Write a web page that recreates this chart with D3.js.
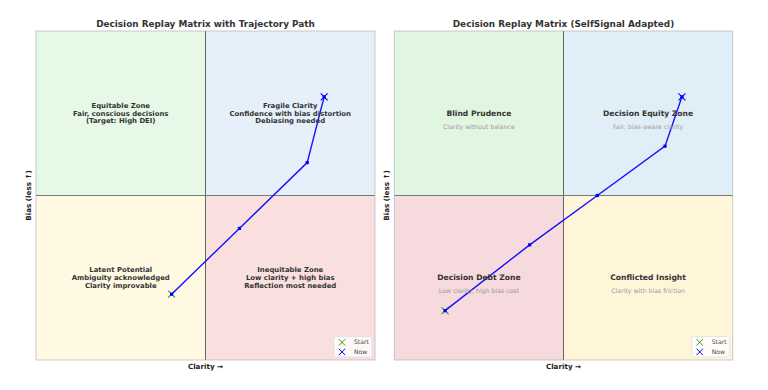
<!DOCTYPE html>
<html>
<head>
<meta charset="utf-8">
<script src="https://cdn.jsdelivr.net/npm/d3@7"></script>
<style>
  body { margin: 0; background: #fff; }
  text { font-family: "DejaVu Sans", sans-serif; }
</style>
</head>
<body>
<svg width="768" height="390"></svg>
<script>
// trajectory data (clarity, bias-less)
var leftPath = [[0.4, 0.2], [0.6, 0.4], [0.8, 0.6], [0.85, 0.8]];
var rightPath = [[0.15, 0.15], [0.4, 0.35], [0.6, 0.5], [0.8, 0.65], [0.85, 0.8]];

// quadrants: [x0, y0, fill]
var leftQuads = [[0, 0.5, '#e6f8e6'], [0.5, 0.5, '#e6f0fa'], [0, 0, '#fff9e3'], [0.5, 0, '#fadfdf']];
var rightQuads = [[0, 0.5, '#e1f6e1'], [0.5, 0.5, '#e0eff7'], [0, 0, '#f6dadd'], [0.5, 0, '#fff6da']];

var leftLabels = [
  [0.25, 0.75, ['Equitable Zone', 'Fair, conscious decisions', '(Target: High DEI)']],
  [0.75, 0.75, ['Fragile Clarity', 'Confidence with bias distortion', 'Debiasing needed']],
  [0.25, 0.25, ['Latent Potential', 'Ambiguity acknowledged', 'Clarity improvable']],
  [0.75, 0.25, ['Inequitable Zone', 'Low clarity + high bias', 'Reflection most needed']]
];
var rightLabels = [
  [0.25, 0.75, 'Blind Prudence', 'Clarity without balance'],
  [0.75, 0.75, 'Decision Equity Zone', 'Fair, bias-aware clarity'],
  [0.25, 0.25, 'Decision Debt Zone', 'Low clarity, high bias cost'],
  [0.75, 0.25, 'Conflicted Insight', 'Clarity with bias friction']
];

var svg = d3.select('svg');

function panel(opt) {
  var x = d3.scaleLinear().domain([0, 1]).range([opt.left, opt.right]);
  var y = d3.scaleLinear().domain([0, 1]).range([360, 31]);
  var g = svg.append('g');

  g.selectAll('rect.q')
    .data(opt.quads)
    .enter().append('rect')
    .attr('class', 'q')
    .attr('x', function(d) { return x(d[0]); })
    .attr('y', function(d) { return y(d[1] + 0.5); })
    .attr('width', x(0.5) - x(0))
    .attr('height', y(0) - y(0.5))
    .attr('fill', function(d) { return d[2]; });

  // quadrant dividers
  g.append('line')
    .attr('x1', x(0.5)).attr('x2', x(0.5)).attr('y1', y(0)).attr('y2', y(1))
    .attr('stroke', '#555').attr('stroke-width', 0.9);
  g.append('line')
    .attr('x1', x(0)).attr('x2', x(1)).attr('y1', y(0.5)).attr('y2', y(0.5))
    .attr('stroke', '#777').attr('stroke-width', 1.1);

  // frame
  g.append('rect')
    .attr('x', x(0)).attr('y', y(1))
    .attr('width', x(1) - x(0)).attr('height', y(0) - y(1))
    .attr('fill', 'none').attr('stroke', '#aaa').attr('stroke-opacity', 0.6).attr('stroke-width', 1);

  // trajectory
  var line = d3.line().x(function(d) { return x(d[0]); }).y(function(d) { return y(d[1]); });
  var pts = opt.path;
  var first = pts[0], last = pts[pts.length - 1];

  function cross(p, color, r) {
    g.append('path')
      .attr('d', 'M' + (x(p[0]) - r) + ',' + (y(p[1]) - r) + 'L' + (x(p[0]) + r) + ',' + (y(p[1]) + r) +
                 'M' + (x(p[0]) - r) + ',' + (y(p[1]) + r) + 'L' + (x(p[0]) + r) + ',' + (y(p[1]) - r))
      .attr('stroke', color).attr('stroke-width', 1.1).attr('fill', 'none');
  }
  cross(first, '#2ca02c', 3.5);

  g.append('path')
    .datum(pts)
    .attr('d', line)
    .attr('fill', 'none')
    .attr('stroke', '#1010ff')
    .attr('stroke-width', 1.4);

  g.selectAll('rect.pt')
    .data(pts)
    .enter().append('rect')
    .attr('class', 'pt')
    .attr('x', function(d) { return x(d[0]) - 1.6; })
    .attr('y', function(d) { return y(d[1]) - 1.6; })
    .attr('width', 3.2).attr('height', 3.2)
    .attr('fill', '#0000ff');

  cross(last, '#0000ff', 3.5);

  opt.drawLabels(g, x, y);

  // legend
  var lx = x(1) - 41, ly = y(0) - 23.5;
  g.append('rect')
    .attr('x', lx).attr('y', ly).attr('width', 38).attr('height', 20.5).attr('rx', 1.5)
    .attr('fill', '#fff').attr('fill-opacity', 0.8).attr('stroke', '#ddd').attr('stroke-width', 0.7);
  [['Start', '#2ca02c'], ['Now', '#0000ff']].forEach(function(d, i) {
    var cx = lx + 8, cy = ly + 5.8 + i * 9.6, r = 3.2;
    g.append('path')
      .attr('d', 'M' + (cx - r) + ',' + (cy - r) + 'L' + (cx + r) + ',' + (cy + r) +
                 'M' + (cx - r) + ',' + (cy + r) + 'L' + (cx + r) + ',' + (cy - r))
      .attr('stroke', d[1]).attr('stroke-width', 1).attr('fill', 'none');
    g.append('text')
      .attr('x', lx + 20).attr('y', cy).attr('dy', '0.35em')
      .attr('font-size', 6.1).attr('fill', '#444')
      .text(d[0]);
  });

  // titles and axis labels
  g.append('text')
    .attr('x', x(0.5)).attr('y', 24).attr('dy', '0.35em')
    .attr('text-anchor', 'middle').attr('font-size', 8.9).attr('font-weight', 'bold').attr('fill', '#333')
    .text(opt.title);
  g.append('text')
    .attr('x', x(0.5)).attr('y', 366).attr('dy', '0.35em')
    .attr('text-anchor', 'middle').attr('font-size', 7.2).attr('font-weight', 'bold').attr('fill', '#222')
    .text('Clarity →');
  g.append('text')
    .attr('transform', 'translate(' + (x(0) - 7.5) + ',' + y(0.5) + ') rotate(-90)')
    .attr('dy', '0.35em')
    .attr('text-anchor', 'middle').attr('font-size', 7.2).attr('font-weight', 'bold').attr('fill', '#222')
    .text('Bias (less ↑)');
}

panel({
  left: 36, right: 375,
  quads: leftQuads,
  path: leftPath,
  title: 'Decision Replay Matrix with Trajectory Path',
  drawLabels: function(g, x, y) {
    leftLabels.forEach(function(d) {
      var t = g.append('text')
        .attr('text-anchor', 'middle').attr('font-size', 6.9).attr('font-weight', 'bold').attr('fill', '#333');
      d[2].forEach(function(s, i) {
        t.append('tspan')
          .attr('x', x(d[0]))
          .attr('y', y(d[1]) + (i - 1) * 7.7)
          .attr('dy', '0.35em')
          .text(s);
      });
    });
  }
});

panel({
  left: 394.3, right: 732.7,
  quads: rightQuads,
  path: rightPath,
  title: 'Decision Replay Matrix (SelfSignal Adapted)',
  drawLabels: function(g, x, y) {
    rightLabels.forEach(function(d) {
      g.append('text')
        .attr('x', x(d[0])).attr('y', y(d[1])).attr('dy', '0.35em')
        .attr('text-anchor', 'middle').attr('font-size', 7.6).attr('font-weight', 'bold').attr('fill', '#333')
        .text(d[2]);
      g.append('text')
        .attr('x', x(d[0])).attr('y', y(d[1] - 0.04)).attr('dy', '0.35em')
        .attr('text-anchor', 'middle').attr('font-size', 6.2).attr('fill', '#999')
        .text(d[3]);
    });
  }
});
</script>
</body>
</html>
